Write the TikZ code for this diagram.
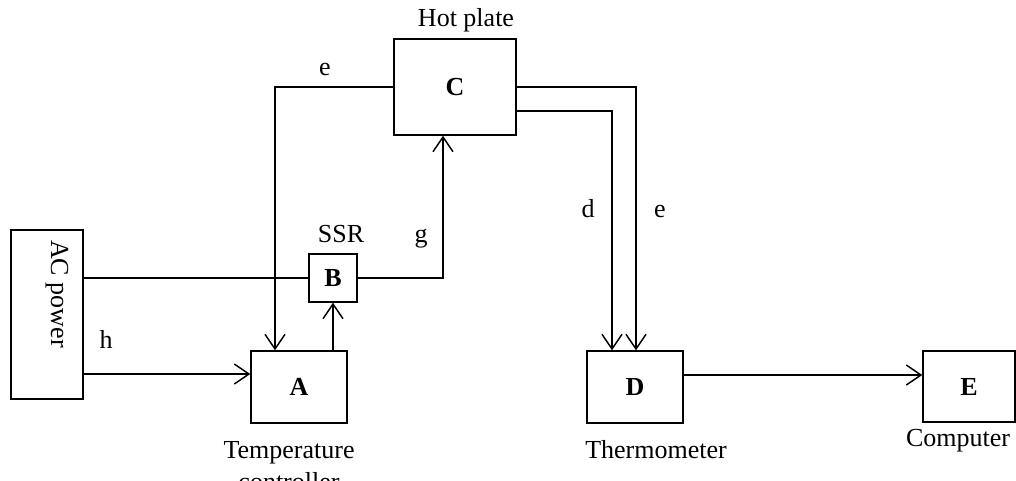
\documentclass[tikz,border=0pt]{standalone}
\usepackage{fontspec}
\setmainfont{Liberation Serif}
\usetikzlibrary{arrows.meta, positioning, calc}
\newcommand\diagfont{\fontsize{19.5}{22.5}\selectfont}

\begin{document}
\begin{tikzpicture}[x=0.75pt, y=-0.75pt, font=\diagfont,
  box/.style={draw, line width=1.1pt, inner sep=0pt, font=\diagfont\bfseries},
  wire/.style={line width=1.1pt},
  conn/.style={wire, -{Straight Barb[length=11pt,width=15pt]}}]
  \useasboundingbox (0,0) rectangle (1016,480);

  % blocks
  \node[box, minimum width=54pt, minimum height=126.75pt] (ac) at (47,314.5) {};
  \node[rotate=-90, anchor=base] (acl) at (51,294) {AC power};
  \node[box, minimum width=72pt, minimum height=54pt] (a) at (299,387) {A};
  \node[box, minimum size=36pt] (b) at (333,278) {B};
  \node[box, minimum width=91.5pt, minimum height=72pt] (c) at (455,87) {C};
  \node[box, minimum width=72pt, minimum height=54pt] (d) at (635,387) {D};
  \node[box, minimum width=69pt, minimum height=53.25pt] (e) at (969,386.5) {E};

  % block names
  \node[anchor=base] (hot) at (466,26) {Hot plate};
  \node[anchor=base] (ssr) at (341,242) {SSR};
  \node[anchor=north, align=center, inner sep=0pt] (tc) at (289,441) {Temperature\\[2pt]controller};
  \node[anchor=base] (thermo) at (656,458) {Thermometer};
  \node[anchor=base] (comp) at (958,446) {Computer};

  % wires
  \coordinate (ain) at ([yshift=9.75pt]a.west);
  \coordinate (dout) at ([yshift=9pt]d.east);
  \draw[wire] (ac.east |- b.west) -- (b.west);
  \draw[conn] (b.east) -| ([xshift=-9pt]c.south);
  \draw[conn] (c.west) -| ([xshift=-18pt]a.north);
  \draw[conn] (b.south |- a.north) -- (b.south);
  \draw[conn] (ac.east |- ain) -- (ain);
  \draw[conn] (c.east) -| ([xshift=0.75pt]d.north);
  \draw[conn] ([yshift=-18pt]c.east) -| ([xshift=-17.25pt]d.north);
  \draw[conn] (dout) -- (dout -| e.west);

  % wire labels
  \node[anchor=base] (le1) at (325,75) {e};
  \node[anchor=base] (lg) at (421,242) {g};
  \node[anchor=base] (lh) at (106,348) {h};
  \node[anchor=base] (ld) at (588,217) {d};
  \node[anchor=base] (le2) at (660,217) {e};
\end{tikzpicture}
\end{document}
